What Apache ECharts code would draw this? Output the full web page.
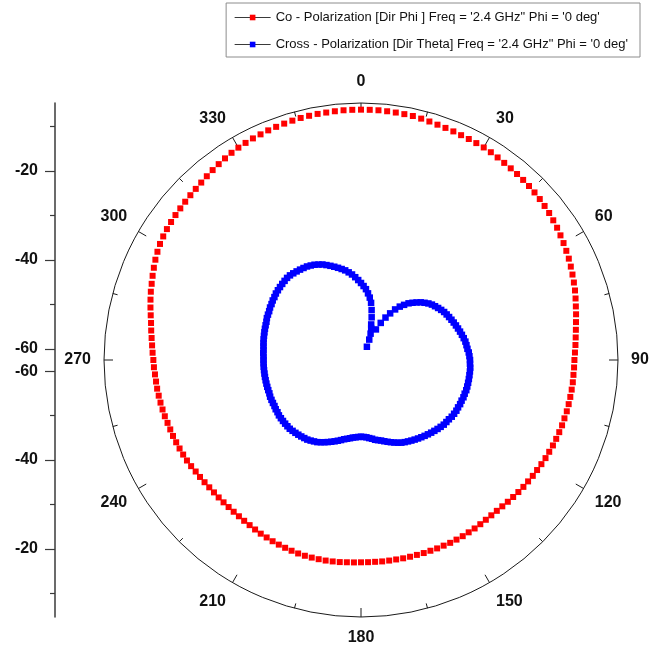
<!DOCTYPE html>
<html>
<head>
<meta charset="utf-8">
<title>Polarization pattern</title>
<script src="https://cdn.jsdelivr.net/npm/echarts@6.0.0/dist/echarts.min.js"></script>
<style>
  html, body { margin: 0; padding: 0; background: #ffffff; }
  #chart { width: 651px; height: 650px; }
</style>
</head>
<body>
<div id="chart"></div>
<script>
// Sample angles (deg), 2 degree steps
const angleDeg = [
  0, 2, 4, 6, 8, 10, 12, 14, 16, 18, 20, 22, 24, 26, 28, 30, 32, 34, 36, 38,
  40, 42, 44, 46, 48, 50, 52, 54, 56, 58, 60, 62, 64, 66, 68, 70, 72, 74, 76, 78,
  80, 82, 84, 86, 88, 90, 92, 94, 96, 98, 100, 102, 104, 106, 108, 110, 112, 114, 116, 118,
  120, 122, 124, 126, 128, 130, 132, 134, 136, 138, 140, 142, 144, 146, 148, 150, 152, 154, 156, 158,
  160, 162, 164, 166, 168, 170, 172, 174, 176, 178, 180, 182, 184, 186, 188, 190, 192, 194, 196, 198,
  200, 202, 204, 206, 208, 210, 212, 214, 216, 218, 220, 222, 224, 226, 228, 230, 232, 234, 236, 238,
  240, 242, 244, 246, 248, 250, 252, 254, 256, 258, 260, 262, 264, 266, 268, 270, 272, 274, 276, 278,
  280, 282, 284, 286, 288, 290, 292, 294, 296, 298, 300, 302, 304, 306, 308, 310, 312, 314, 316, 318,
  320, 322, 324, 326, 328, 330, 332, 334, 336, 338, 340, 342, 344, 346, 348, 350, 352, 354, 356, 358
];

// Co-polarization gain (dB), Dir Phi
const coPol = [
  -6.2, -6.2, -6.2, -6.25, -6.3, -6.35, -6.4, -6.55, -6.7, -6.85,
  -6.95, -7.05, -7.15, -7.2, -7.25, -7.3, -7.4, -7.55, -7.7, -7.8,
  -7.9, -8.0, -8.1, -8.25, -8.4, -8.6, -8.8, -9.05, -9.3, -9.6,
  -9.9, -10.2, -10.5, -10.85, -11.2, -11.55, -11.9, -12.3, -12.7, -13.05,
  -13.4, -13.7, -13.95, -14.15, -14.35, -14.5, -14.55, -14.6, -14.6, -14.65,
  -14.7, -14.75, -14.8, -14.9, -14.95, -15.05, -15.15, -15.25, -15.4, -15.5,
  -15.65, -15.8, -15.9, -16.05, -16.15, -16.3, -16.45, -16.6, -16.75, -16.85,
  -16.9, -16.9, -16.85, -16.8, -16.8, -16.75, -16.75, -16.75, -16.8, -16.8,
  -16.85, -16.85, -16.9, -16.9, -16.9, -16.95, -16.95, -16.95, -17.0, -17.0,
  -17.0, -16.95, -16.9, -16.8, -16.75, -16.7, -16.7, -16.7, -16.7, -16.75,
  -16.85, -16.95, -17.05, -17.15, -17.3, -17.4, -17.55, -17.7, -17.8, -17.9,
  -17.95, -18.0, -18.0, -18.0, -18.0, -17.95, -17.85, -17.75, -17.65, -17.45,
  -17.3, -17.2, -17.1, -17.0, -16.9, -16.85, -16.75, -16.6, -16.5, -16.4,
  -16.3, -16.2, -16.15, -16.05, -15.9, -15.8, -15.6, -15.4, -15.15, -14.85,
  -14.55, -14.15, -13.7, -13.25, -12.8, -12.4, -11.95, -11.5, -11.05, -10.65,
  -10.3, -10.05, -9.85, -9.7, -9.55, -9.45, -9.3, -9.15, -9.0, -8.8,
  -8.55, -8.3, -8.05, -7.8, -7.55, -7.35, -7.2, -7.05, -6.95, -6.8,
  -6.7, -6.6, -6.5, -6.4, -6.35, -6.3, -6.3, -6.25, -6.2, -6.2
];

// Cross-polarization gain (dB), Dir Theta
const crossPol = [
  -45.18, -45.86, -46.53, -47.43, -48.33, -49.45, -51.03, -52.6, -54.18, -55.08,
  -56.2, -57.55, -59.24, -54.85, -53.05, -51.48, -50.13, -48.78, -47.66, -46.76,
  -45.86, -45.18, -44.51, -43.83, -43.27, -42.71, -42.26, -41.92, -41.58, -41.24,
  -40.91, -40.68, -40.46, -40.23, -40.01, -39.78, -39.56, -39.33, -39.11, -38.88,
  -38.66, -38.55, -38.43, -38.21, -38.1, -37.98, -37.98, -37.87, -37.87, -37.87,
  -37.87, -37.87, -37.87, -37.87, -37.98, -37.98, -38.1, -38.1, -38.21, -38.21,
  -38.32, -38.43, -38.66, -38.77, -38.88, -39.11, -39.33, -39.56, -39.78, -40.01,
  -40.23, -40.46, -40.68, -40.91, -41.13, -41.36, -41.58, -41.81, -42.14, -42.48,
  -42.82, -43.16, -43.49, -43.83, -44.06, -44.28, -44.62, -44.84, -45.07, -45.18,
  -45.25, -45.18, -45.07, -44.96, -44.73, -44.51, -44.28, -43.94, -43.61, -43.27,
  -42.93, -42.59, -42.26, -41.92, -41.58, -41.36, -41.13, -40.91, -40.8, -40.68,
  -40.57, -40.46, -40.35, -40.23, -40.23, -40.23, -40.23, -40.23, -40.23, -40.35,
  -40.35, -40.46, -40.46, -40.46, -40.46, -40.57, -40.57, -40.57, -40.57, -40.57,
  -40.57, -40.57, -40.57, -40.57, -40.57, -40.57, -40.57, -40.46, -40.46, -40.35,
  -40.23, -40.12, -40.01, -39.9, -39.78, -39.67, -39.56, -39.33, -39.22, -39.11,
  -38.88, -38.77, -38.55, -38.43, -38.21, -38.1, -37.98, -37.87, -37.76, -37.65,
  -37.65, -37.76, -37.87, -37.98, -38.1, -38.21, -38.43, -38.66, -39.0, -39.33,
  -39.78, -40.23, -40.68, -41.13, -41.58, -42.03, -42.59, -43.16, -43.83, -44.51
];

// Radial scale (dB): centre of the plot to outer ring
const R_MIN = -62.5;
const R_MAX = -4.7;

// Tick labels of the radial scale (drawn mirrored above and below the centre)
const radialMajorTicks = [-60, -40, -20];
const radialMinorTicks = [-50, -30, -10];

// Angle axis tick labels every 30 degrees
const angleLabelStep = 30;

const seriesNames = [
  "Co - Polarization [Dir Phi ] Freq = '2.4 GHz\" Phi = '0 deg'",
  "Cross - Polarization [Dir Theta] Freq = '2.4 GHz\" Phi = '0 deg'"
];

// ---- layout -------------------------------------------------------------
const CX = 361, CY = 360, RADIUS = 257;
const SPAN = R_MAX - R_MIN;              // offset span from the centre, in dB
const FONT = 'Arial, "Liberation Sans", Helvetica, sans-serif';

// the left scale runs from the centre outwards, both up and down
const mirrored = (list) => {
  const out = [];
  list.forEach(v => { out.push(v - R_MIN); out.push(-(v - R_MIN)); });
  return out.sort((a, b) => a - b);
};

const toPairs = (vals) => vals.map((v, i) => [v, angleDeg[i]]);

const chart = echarts.init(document.getElementById('chart'), null, { renderer: 'canvas' });

const option = {
  animation: false,
  backgroundColor: '#ffffff',
  textStyle: { fontFamily: FONT },
  legend: {
    orient: 'vertical',
    right: 11,
    top: 3,
    padding: [8, 12, 6, 8],
    itemGap: 14,
    itemWidth: 36,
    itemHeight: 7,
    borderColor: '#8c8c8c',
    borderWidth: 1,
    selectedMode: false,
    textStyle: { fontFamily: FONT, fontSize: 13, color: '#111111' },
    lineStyle: { color: '#3a3a3a', width: 1, opacity: 1 },
    data: seriesNames
  },
  polar: {
    center: [CX, CY],
    radius: RADIUS
  },
  angleAxis: {
    type: 'value',
    min: 0,
    max: 360,
    interval: angleLabelStep,
    startAngle: 90,
    clockwise: true,
    axisLine: { show: true, lineStyle: { color: '#1a1a1a', width: 1 } },
    axisTick: { show: true, inside: true, length: 9, lineStyle: { color: '#1a1a1a', width: 1 } },
    minorTick: { show: true, splitNumber: 2, length: 5, lineStyle: { color: '#1a1a1a', width: 1 } },
    splitLine: { show: false },
    minorSplitLine: { show: false },
    axisLabel: {
      margin: 13,
      fontFamily: FONT,
      fontSize: 16,
      fontWeight: 'bold',
      color: '#111111',
      formatter: (v) => (v >= 360 ? '' : String(v))
    }
  },
  radiusAxis: {
    type: 'value',
    min: R_MIN,
    max: R_MAX,
    show: false,
    axisLine: { show: false },
    axisTick: { show: false },
    axisLabel: { show: false },
    splitLine: { show: false }
  },
  grid: {
    left: 55,
    top: CY - RADIUS,
    width: 10,
    height: RADIUS * 2,
    outerBoundsMode: 'none',
    containLabel: false
  },
  xAxis: { type: 'value', show: false, min: 0, max: 1 },
  yAxis: [
    {
      type: 'value',
      min: -SPAN,
      max: SPAN,
      position: 'left',
      axisLine: { show: true, lineStyle: { color: '#3a3a3a', width: 1.5 } },
      axisTick: {
        show: true, inside: false, length: 10,
        customValues: mirrored(radialMajorTicks),
        lineStyle: { color: '#3a3a3a', width: 1.2 }
      },
      axisLabel: {
        show: true,
        margin: 17,
        customValues: mirrored(radialMajorTicks),
        fontFamily: FONT,
        fontSize: 16,
        fontWeight: 'bold',
        color: '#111111',
        formatter: (u) => String(Math.round(R_MIN + Math.abs(u)))
      },
      splitLine: { show: false }
    },
    {
      type: 'value',
      min: -SPAN,
      max: SPAN,
      position: 'left',
      axisLine: { show: false },
      axisTick: {
        show: true, inside: false, length: 5,
        customValues: mirrored(radialMinorTicks),
        lineStyle: { color: '#3a3a3a', width: 1.2 }
      },
      axisLabel: { show: false },
      splitLine: { show: false }
    }
  ],
  series: [
    {
      name: seriesNames[0],
      type: 'line',
      coordinateSystem: 'polar',
      data: toPairs(coPol),
      symbol: 'rect',
      symbolSize: 6,
      showSymbol: true,
      showAllSymbol: true,
      lineStyle: { width: 0, color: '#3a3a3a' },
      itemStyle: { color: '#ff0000' },
      emphasis: { disabled: true },
      z: 3
    },
    {
      name: seriesNames[1],
      type: 'line',
      coordinateSystem: 'polar',
      data: toPairs(crossPol),
      symbol: 'rect',
      symbolSize: 6.5,
      showSymbol: true,
      showAllSymbol: true,
      lineStyle: { width: 0, color: '#3a3a3a' },
      itemStyle: { color: '#0000ff' },
      emphasis: { disabled: true },
      z: 3
    }
  ]
};

chart.setOption(option);
</script>
</body>
</html>
